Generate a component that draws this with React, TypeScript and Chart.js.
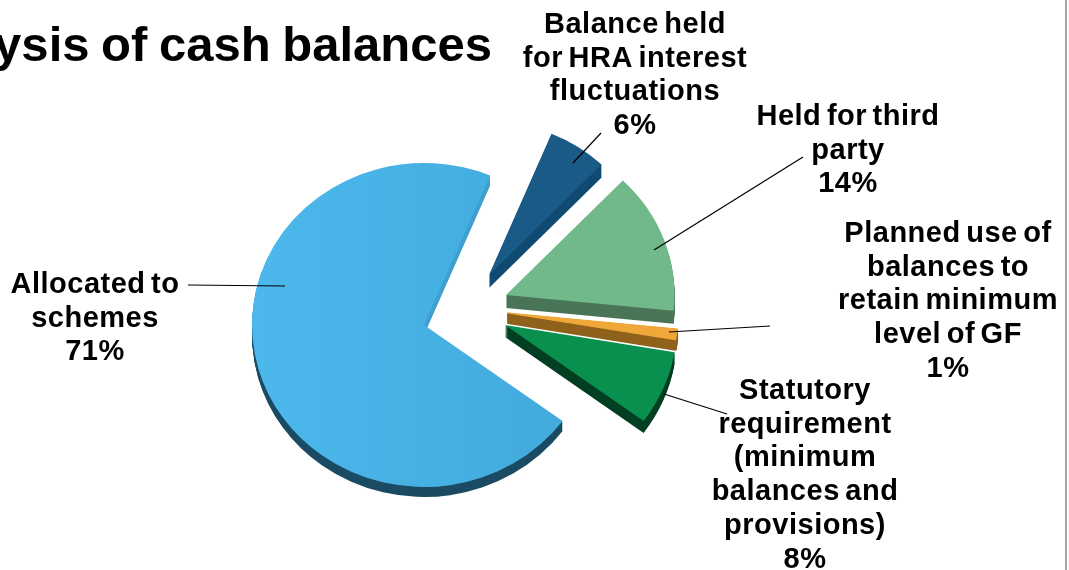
import React, { useEffect, useRef } from "react";
import { Chart, registerables } from "chart.js";

Chart.register(...registerables);

const categories = [
  "Allocated to schemes",
  "Balance held for HRA interest fluctuations",
  "Held for third party",
  "Planned use of balances to retain minimum level of GF",
  "Statutory requirement (minimum balances and provisions)",
];
const shares = [71.2, 5.9, 14.4, 1.1, 7.4];
const percentLabels = ["71%", "6%", "14%", "1%", "8%"];
const labelLines = [
  ["Allocated to", "schemes"],
  ["Balance held", "for HRA interest", "fluctuations"],
  ["Held for third", "party"],
  ["Planned use of", "balances to", "retain minimum", "level of GF"],
  ["Statutory", "requirement", "(minimum", "balances and", "provisions)"],
];
const titleText = "ysis of cash balances";

const topColors = ["#47b3e6", "#1a5a87", "#71b98a", "#f0a838", "#09904f"];
const wallColors = ["#1b4a63", "#0f4a73", "#4a7557", "#8f621c", "#033f22"];

// Presentation layout of the exploded slices (not data)
const sliceLayout = [
  { dx: 0, dy: 0, k: 1, depth: 10, wallStroke: 0 },
  { dx: 65, dy: -50, k: 0.945, depth: 13, wallStroke: 0 },
  { dx: 82, dy: -30, k: 0.98, depth: 13, wallStroke: 0 },
  { dx: 84, dy: -12, k: 0.988, depth: 10, wallStroke: 2 },
  { dx: 81, dy: 0, k: 1, depth: 12, wallStroke: 0 },
];
const paintOrder = [1, 2, 3, 4, 0];
const X_STRETCH = 172 / 162;

const labelAnchors = [
  { x: 95, y: 285 },
  { x: 635, y: 25 },
  { x: 848, y: 117 },
  { x: 948, y: 234 },
  { x: 805, y: 391 },
];
const LINE_HEIGHT = 33.7;
const leaderLines = [
  [188, 285, 285, 286],
  [601, 133, 573, 163],
  [803, 157, 654, 250],
  [770, 326, 669, 332],
  [727, 414, 664, 394],
];

const pie3d = {
  id: "pie3d",
  beforeDatasetsDraw(chart: any) {
    const ctx = chart.ctx;
    const arcs = chart.getDatasetMeta(0).data;
    paintOrder.forEach((i) => {
      const arc = arcs[i];
      const s = sliceLayout[i];
      const paint = (fill: any, down: number, stroke: number) => {
        const clone = Object.create(arc);
        clone.options = {
          ...arc.options,
          backgroundColor: fill,
          borderColor: fill,
          borderWidth: stroke,
          borderJoinStyle: "round",
        };
        ctx.save();
        ctx.translate(arc.x + s.dx, arc.y + s.dy + down);
        ctx.scale(X_STRETCH * s.k, s.k);
        ctx.translate(-arc.x, -arc.y);
        clone.draw(ctx);
        ctx.restore();
      };
      let wall: any = wallColors[i];
      let top: any = topColors[i];
      if (i === 0) {
        wall = ctx.createLinearGradient(0, arc.y - 170, 0, arc.y + 170);
        wall.addColorStop(0, "#3f9fcf");
        wall.addColorStop(0.5, "#3f9fcf");
        wall.addColorStop(0.5, "#1b4a63");
        wall.addColorStop(1, "#1b4a63");
        top = ctx.createLinearGradient(arc.x - 170, 0, arc.x + 150, 0);
        top.addColorStop(0, "#4cb8ec");
        top.addColorStop(1, "#42aadc");
      }
      for (let d = s.depth; d >= 1; d--) paint(wall, d, s.wallStroke);
      paint(top, 0, s.wallStroke ? 1 : 0);
    });
    return false;
  },
  afterDraw(chart: any) {
    const ctx = chart.ctx;
    ctx.save();
    ctx.strokeStyle = "#a6a6a6";
    ctx.lineWidth = 2;
    ctx.beginPath();
    ctx.moveTo(1066, 0);
    ctx.lineTo(1066, 570);
    ctx.stroke();

    ctx.strokeStyle = "#000";
    ctx.lineWidth = 1.2;
    leaderLines.forEach(([x1, y1, x2, y2]) => {
      ctx.beginPath();
      ctx.moveTo(x1, y1);
      ctx.lineTo(x2, y2);
      ctx.stroke();
    });

    ctx.fillStyle = "#000";
    ctx.textBaseline = "alphabetic";
    ctx.textAlign = "right";
    ctx.font = 'bold 49px "Liberation Sans"';
    (ctx as any).wordSpacing = "-2px";
    ctx.fillText(titleText, 492, 61);

    ctx.textBaseline = "middle";
    ctx.textAlign = "center";
    ctx.font = 'bold 29px "Liberation Sans"';
    (ctx as any).letterSpacing = "0.5px";
    (ctx as any).wordSpacing = "-3px";
    labelLines.forEach((lines, i) => {
      const a = labelAnchors[i];
      [...lines, percentLabels[i]].forEach((t, j) => {
        ctx.fillText(t, a.x, a.y + j * LINE_HEIGHT);
      });
    });
    ctx.restore();
  },
};

export default function App() {
  const ref = useRef<HTMLCanvasElement>(null);
  useEffect(() => {
    const chart = new Chart(ref.current!, {
      type: "pie",
      data: {
        labels: categories,
        datasets: [{ data: shares, backgroundColor: topColors, borderWidth: 0 }],
      },
      options: {
        animation: false,
        responsive: false,
        rotation: 126.3,
        layout: { padding: { left: 262, right: 483, top: 163, bottom: 83 } },
        plugins: { legend: { display: false }, title: { display: false }, tooltip: { enabled: false } },
      },
      plugins: [pie3d],
    } as any);
    return () => chart.destroy();
  }, []);
  return (
    <canvas
      ref={ref}
      width={1069}
      height={570}
      style={{ position: "fixed", left: 0, top: 0, width: 1069, height: 570, background: "#fff" }}
    />
  );
}
